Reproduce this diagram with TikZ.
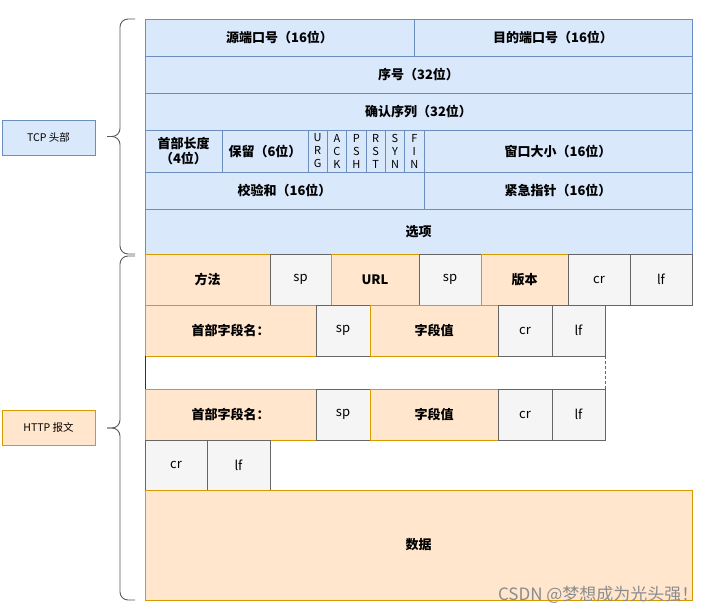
\documentclass[tikz,border=0pt]{standalone}
\usepackage{fontspec}
\setmainfont{Noto Sans CJK SC}
\usepackage{xcolor}
\usetikzlibrary{positioning}
\definecolor{tcpfill}{HTML}{DAE8FC}
\definecolor{tcpline}{HTML}{6C8EBF}
\definecolor{httpfill}{HTML}{FFE6CC}
\definecolor{httpline}{HTML}{D79B00}
\definecolor{ctrlfill}{HTML}{F5F5F5}
\definecolor{ctrlline}{HTML}{666666}

\begin{document}
\begin{tikzpicture}[
  x=1pt, y=-1pt,
  cell/.style={rectangle, draw, line width=0.9pt, outer sep=0pt, inner sep=1pt,
               align=center, anchor=north west, font=\fontsize{13}{15}\selectfont\bfseries},
  tcpbox/.style={cell, draw=tcpline, fill=tcpfill},
  httpbox/.style={cell, draw=httpline, fill=httpfill},
  ctrlbox/.style={cell, draw=ctrlline, fill=ctrlfill, font=\fontsize{13}{15}\selectfont},
  flagbox/.style={tcpbox, minimum width=19.33, minimum height=42, inner sep=0pt,
                  font=\fontsize{11}{13}\selectfont},
  tag/.style={cell, minimum width=93, minimum height=35, font=\fontsize{10.5}{12}\selectfont},
  bracket/.style={draw=black!65, line width=0.9pt, rounded corners=8pt}
]
\useasboundingbox (0,0) rectangle (713,614);

% TCP header
\node[tcpbox, minimum width=269, minimum height=37] (src) at (145,19) {源端口号（16位）};
\node[tcpbox, minimum width=278, minimum height=37, right=0pt of src] (dst) {目的端口号（16位）};
\node[tcpbox, minimum width=547, minimum height=37] (seq) at (145,56) {序号（32位）};
\node[tcpbox, minimum width=547, minimum height=37] (ack) at (145,93) {确认序列（32位）};
\node[tcpbox, minimum width=77, minimum height=42] (hlen) at (145,130) {首部长度\\（4位）};
\node[tcpbox, minimum width=86, minimum height=42, right=0pt of hlen] (rsv) {保留（6位）};
\foreach \a/\b/\c [count=\i from 0] in {U/R/G, A/C/K, P/S/H, R/S/T, S/Y/N, F/I/N}
  \node[flagbox] (flag\i) at (308+\i*19.33,130) {\a\\\b\\\c};
\node[tcpbox, minimum width=268, minimum height=42] (win) at (424,130) {窗口大小（16位）};
\node[tcpbox, minimum width=279, minimum height=37] (chk) at (145,172) {校验和（16位）};
\node[tcpbox, minimum width=268, minimum height=37, right=0pt of chk] (urg) {紧急指针（16位）};
\node[tcpbox, minimum width=547, minimum height=45] (opt) at (145,209) {选项};

% HTTP message
\node[httpbox, minimum width=125, minimum height=51] (meth) at (145,254) {方法};
\node[ctrlbox, minimum width=61, minimum height=51, right=0pt of meth] (sp0) {sp};
\node[httpbox, minimum width=88, minimum height=51, right=0pt of sp0] (url) {URL};
\node[ctrlbox, minimum width=62, minimum height=51, right=0pt of url] (sp1) {sp};
\node[httpbox, minimum width=87, minimum height=51, right=0pt of sp1] (ver) {版本};
\node[ctrlbox, minimum width=62, minimum height=51, right=0pt of ver] (cr0) {cr};
\node[ctrlbox, minimum width=62, minimum height=51, right=0pt of cr0] (lf0) {lf};

\node[httpbox, minimum width=171, minimum height=51] (key1) at (145,305) {首部字段名：};
\node[ctrlbox, minimum width=54, minimum height=51, right=0pt of key1] (sp2) {sp};
\node[httpbox, minimum width=128, minimum height=51, right=0pt of sp2] (val1) {字段值};
\node[ctrlbox, minimum width=54, minimum height=51, right=0pt of val1] (cr1) {cr};
\node[ctrlbox, minimum width=53, minimum height=51, right=0pt of cr1] (lf1) {lf};

\node[httpbox, minimum width=171, minimum height=51] (key2) at (145,389) {首部字段名：};
\node[ctrlbox, minimum width=54, minimum height=51, right=0pt of key2] (sp3) {sp};
\node[httpbox, minimum width=128, minimum height=51, right=0pt of sp3] (val2) {字段值};
\node[ctrlbox, minimum width=54, minimum height=51, right=0pt of val2] (cr2) {cr};
\node[ctrlbox, minimum width=53, minimum height=51, right=0pt of cr2] (lf2) {lf};

\node[ctrlbox, minimum width=62, minimum height=50] (cr3) at (145,440) {cr};
\node[ctrlbox, minimum width=63, minimum height=50, right=0pt of cr3] (lf3) {lf};
\node[httpbox, minimum width=547, minimum height=110] (data) at (145,490) {数据};

\draw[black!80, line width=0.9pt] (key1.south west) -- (key2.north west);
\draw[ctrlline, line width=0.9pt, densely dashed] (lf1.south east) -- (lf2.north east);

% labels and brackets
\node[tag, draw=tcpline, fill=tcpfill] (tcp) at (2,120) {TCP 头部};
\node[tag, draw=httpline, fill=httpfill] (http) at (2,410) {HTTP 报文};
\draw[bracket] (135,19) -- (120,19) -- (120,136.5) -- (107,136.5);
\draw[bracket] (135,254) -- (120,254) -- (120,136.5) -- (107,136.5);
\draw[bracket] (135,256) -- (120,256) -- (120,428) -- (107,428);
\draw[bracket] (135,600) -- (120,600) -- (120,428) -- (107,428);

\node[anchor=east, text=black!45, font=\fontsize{17}{19}\selectfont] (mark) at (702,595) {CSDN @梦想成为光头强！};
\end{tikzpicture}
\end{document}
